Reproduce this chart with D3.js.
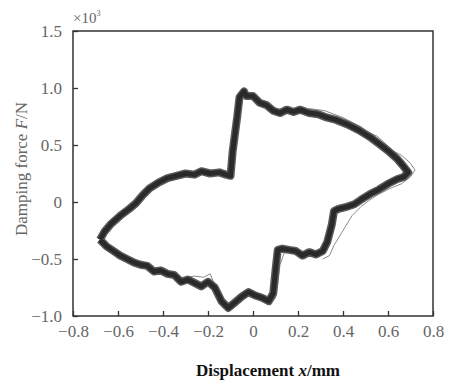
<!DOCTYPE html>
<html>
<head>
<meta charset="utf-8">
<script src="https://cdn.jsdelivr.net/npm/d3@7/dist/d3.min.js"></script>
<style>
  body { margin: 0; background: #fff; }
  svg { display: block; }
  text { font-family: "Liberation Serif", "DejaVu Serif", serif; }
</style>
</head>
<body>
<svg id="chart" width="451" height="382"></svg>
<script>
// displacement (mm) / damping force (x10^3 N)
var xTicks = [-0.8, -0.6, -0.4, -0.2, 0, 0.2, 0.4, 0.6, 0.8];
var yTicks = [-1.0, -0.5, 0, 0.5, 1.0, 1.5];
var yTickLabels = ["\u22121.0", "\u22120.5", "0", "0.5", "1.0", "1.5"];
var xTickLabels = ["\u22120.8", "\u22120.6", "\u22120.4", "\u22120.2", "0", "0.2", "0.4", "0.6", "0.8"];

// main loop (many overlaid cycles -> thick band)
var loopMain = [
  [-0.68,-0.33],[-0.66,-0.26],[-0.63,-0.19],[-0.59,-0.12],[-0.55,-0.06],[-0.52,-0.01],
  [-0.49,0.06],[-0.46,0.12],[-0.42,0.17],[-0.38,0.21],[-0.34,0.23],[-0.30,0.25],
  [-0.26,0.24],[-0.23,0.27],[-0.19,0.25],[-0.15,0.26],[-0.12,0.24],[-0.10,0.23],
  [-0.09,0.45],[-0.07,0.75],[-0.06,0.92],[-0.04,0.97],[-0.03,0.93],[0.00,0.93],
  [0.03,0.87],[0.06,0.85],[0.09,0.80],[0.12,0.78],[0.15,0.81],[0.18,0.79],
  [0.21,0.81],[0.25,0.78],[0.29,0.77],[0.33,0.74],[0.37,0.72],[0.42,0.68],
  [0.47,0.63],[0.52,0.57],[0.56,0.51],[0.60,0.45],[0.64,0.38],[0.67,0.31],
  [0.69,0.26],[0.67,0.22],[0.64,0.20],[0.60,0.16],[0.56,0.11],[0.52,0.07],
  [0.48,0.02],[0.45,-0.02],[0.42,-0.04],[0.38,-0.06],[0.36,-0.08],[0.35,-0.20],
  [0.33,-0.35],[0.31,-0.43],[0.28,-0.46],[0.25,-0.44],[0.22,-0.47],[0.19,-0.43],
  [0.16,-0.42],[0.13,-0.41],[0.11,-0.42],[0.10,-0.60],[0.09,-0.80],[0.07,-0.87],
  [0.04,-0.84],[0.01,-0.82],[-0.02,-0.79],[-0.05,-0.83],[-0.08,-0.88],[-0.11,-0.93],
  [-0.14,-0.87],[-0.17,-0.75],[-0.20,-0.70],[-0.23,-0.74],[-0.26,-0.71],[-0.29,-0.68],
  [-0.32,-0.70],[-0.35,-0.64],[-0.38,-0.63],[-0.41,-0.60],[-0.44,-0.61],[-0.47,-0.56],
  [-0.50,-0.55],[-0.53,-0.53],[-0.56,-0.50],[-0.59,-0.47],[-0.62,-0.43],[-0.65,-0.39],
  [-0.68,-0.33]
];

// stray thin cycles
var strayRight = [
  [0.25,0.82],[0.32,0.80],[0.40,0.74],[0.44,0.70],[0.48,0.66],[0.51,0.61],[0.55,0.58],
  [0.59,0.51],[0.62,0.45],[0.66,0.41],[0.70,0.34],[0.72,0.28],[0.70,0.22],[0.66,0.16],
  [0.61,0.12],[0.56,0.07],[0.52,0.02],[0.48,-0.04],[0.44,-0.12],[0.40,-0.25],
  [0.36,-0.38],[0.34,-0.47],[0.31,-0.50]
];
var strayMid = [
  [0.16,-0.40],[0.14,-0.44],[0.12,-0.55],[0.11,-0.72],[0.10,-0.84],[0.08,-0.89]
];
var strayLeft = [
  [-0.30,-0.66],[-0.26,-0.65],[-0.22,-0.66],[-0.19,-0.63],[-0.16,-0.78],[-0.13,-0.90]
];

var svg = d3.select("#chart");
var margin = {top: 31, right: 18, bottom: 66, left: 73},
    width = 451 - margin.left - margin.right,
    height = 382 - margin.top - margin.bottom;

var x = d3.scaleLinear().domain([-0.8, 0.8]).range([0, width]);
var y = d3.scaleLinear().domain([-1.0, 1.5]).range([height, 0]);

// soft edge like the scanned band
var defs = svg.append("defs");
defs.append("filter").attr("id", "soft")
  .append("feGaussianBlur").attr("stdDeviation", 0.7);

var g = svg.append("g")
    .attr("transform", "translate(" + margin.left + "," + margin.top + ")");

var line = d3.line()
    .x(function (d) { return x(d[0]); })
    .y(function (d) { return y(d[1]); })
    .curve(d3.curveLinear);

// thin stray traces underneath
[strayRight, strayMid, strayLeft].forEach(function (s) {
  g.append("path").datum(s)
    .attr("d", line)
    .attr("fill", "none")
    .attr("stroke", "#8a8a8a")
    .attr("stroke-width", 1);
});

// thick band
var band = g.append("g").attr("filter", "url(#soft)");
band.append("path").datum(loopMain)
  .attr("d", line)
  .attr("fill", "none")
  .attr("stroke", "#5a5a5a")
  .attr("stroke-width", 8)
  .attr("stroke-linejoin", "round");
band.append("path").datum(loopMain)
  .attr("d", line)
  .attr("fill", "none")
  .attr("stroke", "#2a2a2a")
  .attr("stroke-width", 5)
  .attr("stroke-linejoin", "round");

// frame
g.append("rect")
  .attr("width", width).attr("height", height)
  .attr("fill", "none").attr("stroke", "#333").attr("stroke-width", 1.5);

var xAxis = g.append("g")
  .attr("transform", "translate(0," + height + ")")
  .call(d3.axisBottom(x).tickValues(xTicks).tickSizeInner(-5).tickSizeOuter(0).tickPadding(9)
    .tickFormat(function (d, i) { return xTickLabels[i]; }));
var yAxis = g.append("g")
  .call(d3.axisLeft(y).tickValues(yTicks).tickSizeInner(-5).tickSizeOuter(0).tickPadding(11)
    .tickFormat(function (d, i) { return yTickLabels[i]; }));

[xAxis, yAxis].forEach(function (a) {
  a.select(".domain").remove();
  a.selectAll(".tick line").attr("stroke", "#333").attr("stroke-width", 1.3);
  a.selectAll(".tick text")
    .attr("fill", "#666")
    .style("font-family", "'Liberation Serif', serif")
    .style("font-size", "17px");
});

// scale factor
svg.append("text")
  .attr("x", 73).attr("y", 23)
  .attr("fill", "#666").style("font-size", "15px")
  .text("\u00d710")
  .append("tspan").attr("dy", -7).style("font-size", "8px").text("3");

// axis titles
var yt = svg.append("text")
  .attr("transform", "translate(27,169) rotate(-90)")
  .attr("text-anchor", "middle")
  .attr("fill", "#666").style("font-size", "17px");
yt.append("tspan").text("Damping force ");
yt.append("tspan").style("font-style", "italic").text("F");
yt.append("tspan").text("/N");

var xt = svg.append("text")
  .attr("x", 268).attr("y", 376)
  .attr("text-anchor", "middle")
  .attr("fill", "#111").style("font-size", "17px").style("font-weight", "bold");
xt.append("tspan").text("Displacement ");
xt.append("tspan").style("font-style", "italic").text("x");
xt.append("tspan").text("/mm");
</script>
</body>
</html>
